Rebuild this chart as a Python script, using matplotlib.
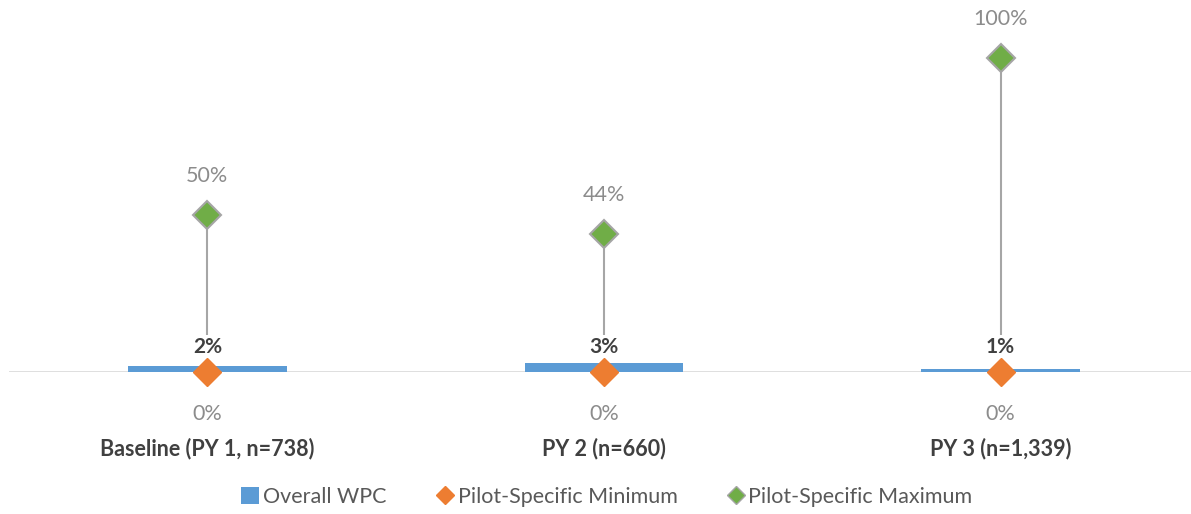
import matplotlib.pyplot as plt
import numpy as np
from matplotlib.lines import Line2D
from matplotlib.patches import Patch

categories = ['Baseline (PY 1, n=738)', 'PY 2 (n=660)', 'PY 3 (n=1,339)']
overall_wpc = [2, 3, 1]
pilot_min = [0, 0, 0]
pilot_max = [50, 44, 100]

blue = '#5B9BD5'
orange = '#ED7D31'
green = '#70AD47'
grey_txt = '#8C8C8C'
dark_txt = '#404040'

plt.rcParams['font.family'] = ['Lato', 'DejaVu Sans']

fig = plt.figure(figsize=(11.91, 5.14), dpi=100)
ax = fig.add_axes([9 / 1191, 142 / 514, 1182 / 1191, 345.4 / 514])

x = np.arange(len(categories))
ax.bar(x, overall_wpc, width=0.4, color=blue, zorder=2)
ax.vlines(x, pilot_min, pilot_max, color='#A6A6A6', lw=1.5, zorder=1)
ax.plot(x, pilot_min, ls='none', marker='D', ms=14, color=orange, mec=orange, zorder=5, clip_on=False)
ax.plot(x, pilot_max, ls='none', marker='D', ms=14, color=green, mec='#A5A5A5', mew=1.5, zorder=5, clip_on=False)

for i in x:
    ax.annotate('%d%%' % overall_wpc[i], (i, 0), xytext=(0, 18), textcoords='offset points',
                ha='center', va='center', fontsize=15, fontweight='bold', color=dark_txt, zorder=4,
                bbox=dict(boxstyle='square,pad=0.1', fc='white', ec='none'))
    ax.annotate('%d%%' % pilot_max[i], (i, pilot_max[i]), xytext=(0, 28), textcoords='offset points',
                ha='center', va='center', fontsize=15.5, color=grey_txt)
    ax.annotate('%d%%' % pilot_min[i], (i, pilot_min[i]), xytext=(0, -30), textcoords='offset points',
                ha='center', va='center', fontsize=15.5, color=grey_txt)
    ax.annotate(categories[i], (i, 0), xytext=(0, -55), textcoords='offset points',
                ha='center', va='center', fontsize=15.5, fontweight='bold', color=dark_txt)

ax.set_xlim(-0.5, 2.48)
ax.set_ylim(0, 110)
ax.axhline(0, color='#D9D9D9', lw=1.2, zorder=0)
for s in ax.spines.values():
    s.set_visible(False)
ax.set_xticks([])
ax.set_yticks([])

handles = [
    Patch(facecolor=blue, label='Overall WPC'),
    Line2D([], [], ls='none', marker='D', ms=9, color=orange, label='Pilot-Specific Minimum'),
    Line2D([], [], ls='none', marker='D', ms=9, color=green, mec='#A5A5A5', label='Pilot-Specific Maximum'),
]
fig.legend(handles=handles, loc='center', bbox_to_anchor=(607 / 1191, 17 / 514), ncol=3, frameon=False,
           fontsize=15.5, handlelength=0.8, handleheight=0.8, handletextpad=0.2, columnspacing=2.3,
           labelcolor='#595959')

plt.savefig('out.png')
